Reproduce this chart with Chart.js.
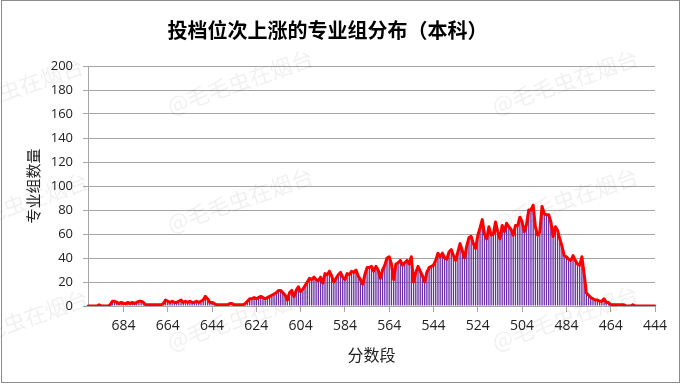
<!DOCTYPE html>
<html lang="zh">
<head>
<meta charset="UTF-8">
<title>投档位次上涨的专业组分布（本科）</title>
<style>
  body { margin: 0; background: #fff; }
  #wrap { width: 682px; height: 385px; }
</style>
</head>
<body>
<div id="wrap"><canvas id="chart" width="682" height="385"></canvas></div>
<script src="https://cdn.jsdelivr.net/npm/chart.js"></script>
<script>
// 分数段 700 -> 444, one category per point
const firstScore = 700;
const lastScore = 444;
const tickLabels = ['684', '664', '644', '624', '604', '584', '564', '544', '524', '504', '484', '464', '444'];

// 专业组数量 (10 per row, from 700 downwards)
const counts = [
  0, 0, 0, 0, 0, 1, 0, 0, 0, 0,        // 700-691
  1, 4, 4, 3, 2, 3, 2, 2, 3, 2,        // 690-681
  3, 2, 3, 4, 4, 3, 1, 1, 1, 1,        // 680-671
  1, 1, 1, 1, 2, 5, 4, 3, 4, 3,        // 670-661
  3, 4, 5, 3, 4, 3, 4, 3, 3, 4,        // 660-651
  3, 4, 5, 8, 6, 3, 3, 2, 1, 1,        // 650-641
  1, 1, 1, 1, 2, 2, 1, 1, 1, 1,        // 640-631
  1, 2, 4, 6, 6, 7, 6, 7, 8, 7,        // 630-621
  6, 7, 8, 9, 10, 11, 13, 13, 11, 9,   // 620-611
  5, 11, 13, 8, 13, 16, 12, 14, 17, 20, // 610-601
  23, 22, 24, 22, 21, 24, 19, 27, 26, 29, // 600-591
  25, 20, 23, 26, 28, 24, 22, 27, 26, 29, // 590-581
  28, 30, 25, 22, 18, 26, 32, 32, 33, 29, // 580-571
  33, 30, 23, 30, 34, 40, 41, 35, 22, 35, // 570-561
  36, 38, 34, 36, 38, 35, 41, 20, 28, 33, // 560-551
  29, 25, 20, 28, 32, 33, 34, 38, 44, 41, // 550-541
  44, 40, 39, 45, 47, 42, 38, 45, 52, 46, // 540-531
  40, 50, 57, 58, 52, 48, 59, 65, 72, 60, // 530-521
  56, 66, 59, 60, 70, 62, 56, 67, 62, 69, // 520-511
  66, 64, 59, 67, 67, 74, 70, 62, 68, 80, // 510-501
  80, 84, 66, 59, 62, 83, 77, 76, 76, 70, // 500-491
  58, 66, 63, 56, 50, 42, 41, 39, 38, 42, // 490-481
  38, 35, 34, 41, 27, 11, 9, 7, 6, 5,     // 480-471
  5, 4, 4, 6, 3, 3, 1, 1, 1, 1,           // 470-461
  1, 1, 1, 0, 0, 0, 1, 0, 0, 0,           // 460-451
  0, 0, 0, 0, 0, 0, 0                     // 450-444
];

const scores = [];
for (let s = firstScore; s >= lastScore; s--) scores.push(String(s));

const axisGray = '#a6a6a6';
const numFont = "'Open Sans', 'DejaVu Sans', sans-serif";
const cjkFont = "'Noto Sans CJK SC', sans-serif";

// faint repeated watermark + outer frame
const decor = {
  id: 'decor',
  afterDraw(chart) {
    const c = chart.ctx;
    c.save();
    c.font = "22px 'Noto Sans CJK SC'";
    c.fillStyle = 'rgba(0,0,0,0.06)';
    c.textAlign = 'center';
    c.textBaseline = 'middle';
    const spots = [[10, 90], [240, 82], [565, 82], [15, 205], [240, 200], [565, 200],
                   [15, 322], [240, 318], [565, 318]];
    spots.forEach(([x, y]) => {
      c.save();
      c.translate(x, y);
      c.rotate(-0.33);
      c.fillText('@毛毛虫在烟台', 0, 0);
      c.restore();
    });
    c.strokeStyle = '#8c8c8c';
    c.lineWidth = 1;
    c.strokeRect(1.5, 0.5, 678, 382);
    c.restore();
  }
};

new Chart(document.getElementById('chart'), {
  type: 'bar',
  data: {
    labels: scores,
    datasets: [
      {
        type: 'line',
        data: counts,
        borderColor: '#ff0000',
        borderWidth: 3,
        borderJoinStyle: 'round',
        borderCapStyle: 'round',
        pointRadius: 0,
        tension: 0,
        order: 0
      },
      {
        type: 'bar',
        data: counts,
        backgroundColor: '#6a2fa8',
        barPercentage: 0.6,
        categoryPercentage: 1,
        order: 1
      }
    ]
  },
  plugins: [decor],
  options: {
    responsive: false,
    animation: false,
    layout: { padding: { left: 0, right: 27, top: 0, bottom: 0 } },
    plugins: {
      legend: { display: false },
      tooltip: { enabled: false },
      title: {
        display: true,
        text: '投档位次上涨的专业组分布（本科）',
        color: '#000',
        font: { family: cjkFont, size: 20, weight: 'bold' },
        padding: { top: 18, bottom: 24 }
      }
    },
    scales: {
      x: {
        offset: false,
        grid: {
          offset: false,
          drawOnChartArea: false,
          tickLength: 6,
          tickColor: (ctx) => tickLabels.includes(scores[ctx.index]) ? axisGray : 'rgba(0,0,0,0)'
        },
        border: { color: axisGray },
        ticks: {
          autoSkip: false,
          maxRotation: 0,
          padding: 6,
          color: '#222',
          font: { family: numFont, size: 14 },
          callback: (v, i) => tickLabels.includes(scores[i]) ? scores[i] : ''
        },
        title: {
          display: true,
          text: '分数段',
          color: '#222',
          font: { family: cjkFont, size: 16 },
          padding: { top: 0, bottom: 20 }
        },
        afterFit: (scale) => { scale.height = 79; }
      },
      y: {
        min: 0,
        max: 200,
        grid: { color: axisGray, tickLength: 5 },
        border: { color: axisGray },
        ticks: {
          stepSize: 20,
          padding: 10,
          color: '#222',
          font: { family: numFont, size: 13 }
        },
        title: {
          display: true,
          text: '专业组数量',
          color: '#222',
          font: { family: cjkFont, size: 15 },
          padding: { top: 24, bottom: 0 }
        },
        afterFit: (scale) => { scale.width = 88; }
      }
    }
  }
});
</script>
</body>
</html>
